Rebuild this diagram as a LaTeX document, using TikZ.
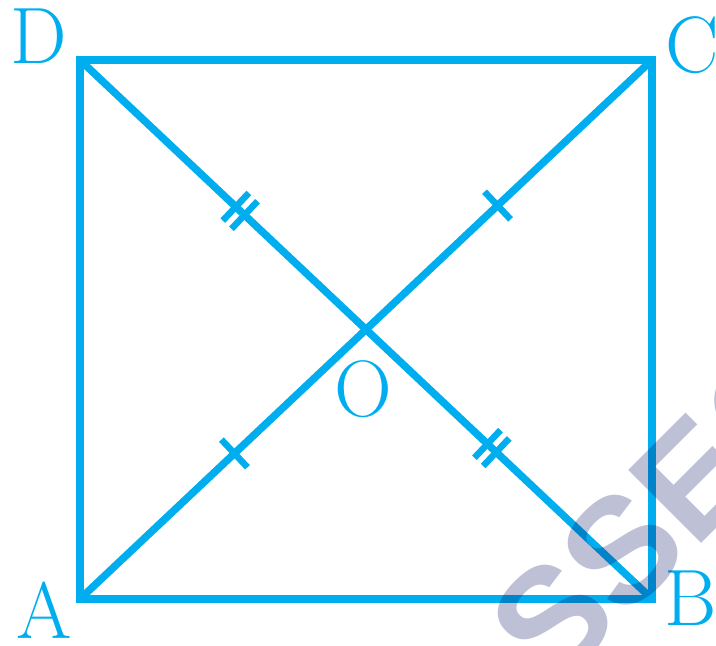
\documentclass[tikz,border=0pt]{standalone}
\usepackage{fontspec}
\newfontfamily\wmfont{Liberation Sans}
\usetikzlibrary{calc}
\definecolor{geo}{RGB}{0,174,239}
\definecolor{wmark}{RGB}{190,192,214}
\begin{document}
\begin{tikzpicture}[x=1pt,y=1pt,
  sq/.style={draw=geo, line width=7.5pt},
  tickmark/.style={draw=geo, line width=6.5pt},
  lbl/.style={text=geo, font=\fontsize{80}{80}\selectfont, inner sep=0pt},
  wmtext/.style={text=wmark, font=\wmfont\bfseries\fontsize{150}{150}\selectfont, inner sep=0pt}]
\useasboundingbox (0,0) rectangle (716,646);
\clip (0,0) rectangle (716,646);
% corners
\coordinate (A) at (80,47);
\coordinate (B) at (652,47);
\coordinate (C) at (652,586);
\coordinate (D) at (80,586);
% square and diagonals
\draw[sq] (A) -- (B) -- (C) -- (D) -- cycle;
\draw[sq] (A) -- (C);
\draw[sq] (D) -- (B);
% single ticks on AC
\coordinate (t1) at ($(A)!0.27!(C)$);
\coordinate (t2) at ($(A)!0.73!(C)$);
\draw[tickmark] ($(t1)!19pt!90:(C)$) -- ($(t1)!19pt!-90:(C)$);
\draw[tickmark] ($(t2)!19pt!90:(C)$) -- ($(t2)!19pt!-90:(C)$);
% double ticks on DB
\coordinate (u1) at ($(D)!0.28!(B)$);
\coordinate (u2) at ($(D)!0.72!(B)$);
\coordinate (u1a) at ($(u1)!6pt!(B)$);
\coordinate (u1b) at ($(u1)!-6pt!(B)$);
\coordinate (u2a) at ($(u2)!6pt!(B)$);
\coordinate (u2b) at ($(u2)!-6pt!(B)$);
\foreach \p in {u1a,u1b,u2a,u2b}{
  \draw[tickmark] ($(\p)!19pt!90:(B)$) -- ($(\p)!19pt!-90:(B)$);
}
% labels
\node[lbl] (lD) at (39,610) {D};
\node[lbl] (lC) at (692,601) {C};
\node[lbl] (lA) at (44,36) {A};
\node[lbl] (lB) at (691,48) {B};
\node[lbl] (lO) at (363,257) {O};
% watermark
\begin{scope}[blend mode=multiply]
\node[wmtext, rotate=45, anchor=base west] (wm) at (553,-46) {SSEC};
\end{scope}
\end{tikzpicture}
\end{document}
